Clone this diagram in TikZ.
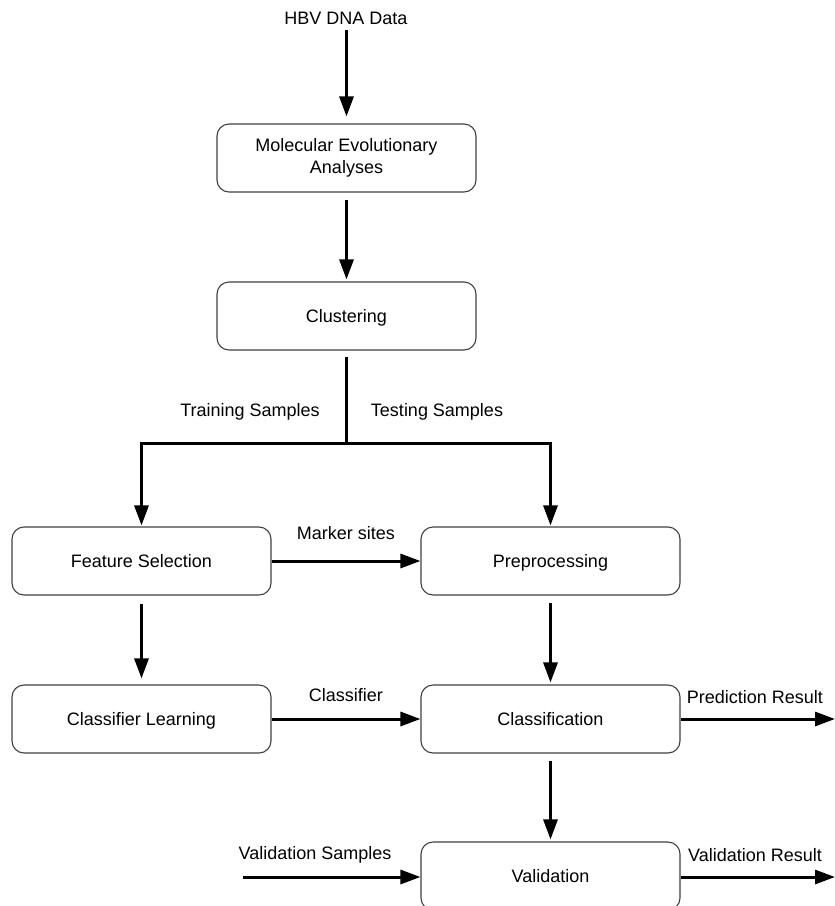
\documentclass[tikz,border=0pt]{standalone}
\usepackage{fontspec}
\setmainfont{Liberation Sans}
\usetikzlibrary{arrows.meta}
\begin{document}
\begin{tikzpicture}[x=1pt,y=1pt,
  box/.style={draw=black!75,line width=1.1pt,rounded corners=12pt,minimum width=259pt,minimum height=68pt,align=center,inner sep=0pt,font=\fontsize{18}{22}\selectfont},
  onebox/.style={box,text height=13pt,text depth=0pt},
  lbl/.style={font=\fontsize{18}{22}\selectfont,inner sep=0pt},
  arr/.style={line width=3pt,-{Triangle[length=20pt,width=14pt]}},
  ln/.style={line width=3pt}]
\useasboundingbox (0,0) rectangle (835,-906);
\node[lbl] (hbv) at (346,-18) {HBV DNA Data};
\node[box] (mea) at (346.5,-158) {Molecular Evolutionary\\Analyses};
\node[onebox] (clu) at (346.5,-316) {Clustering};
\node[onebox] (fs) at (141.5,-561) {Feature Selection};
\node[onebox] (pre) at (550.5,-561) {Preprocessing};
\node[onebox] (cl) at (141.5,-719) {Classifier Learning};
\node[onebox] (cls) at (550.5,-719) {Classification};
\node[onebox] (val) at (550.5,-876) {Validation};
\coordinate (br) at (346,-443);
\coordinate (vin) at (243,-877);
\coordinate (pout) at (835,-719);
\coordinate (vout) at (835,-877);
\node[lbl] (tr) at (250,-412) {Training Samples};
\node[lbl] (te) at (437,-412) {Testing Samples};
\node[lbl] (ms) at (346,-533) {Marker sites};
\node[lbl] (cf) at (346,-695) {Classifier};
\node[lbl] (pr) at (755,-697) {Prediction Result};
\node[lbl] (vs) at (315,-855) {Validation Samples};
\node[lbl] (vr) at (755,-855) {Validation Result};
\draw[arr,shorten <=6pt,shorten >=7pt] (hbv.south -| mea.north) -- (mea.north);
\draw[arr,shorten <=7pt,shorten >=2pt] (mea.south -| clu.north) -- (clu.north);
\draw[ln,shorten <=6pt] (clu.south -| br) -- (br);
\draw[arr,shorten >=1pt] (br) -| (fs.north);
\draw[arr,shorten >=1pt] (br) -| (pre.north);
\draw[arr] (fs.east) -- (pre.west);
\draw[arr,shorten <=8pt,shorten >=6pt] (fs.south) -- (cl.north);
\draw[arr,shorten <=7pt,shorten >=2pt] (pre.south) -- (cls.north);
\draw[arr] (cl.east) -- (cls.west);
\draw[arr] (cls.east) -- (pout);
\draw[arr,shorten <=7pt,shorten >=2pt] (cls.south) -- (val.north);
\draw[arr] (vin) -- (vin -| val.west);
\draw[arr] (val.east |- vout) -- (vout);
\end{tikzpicture}
\end{document}
